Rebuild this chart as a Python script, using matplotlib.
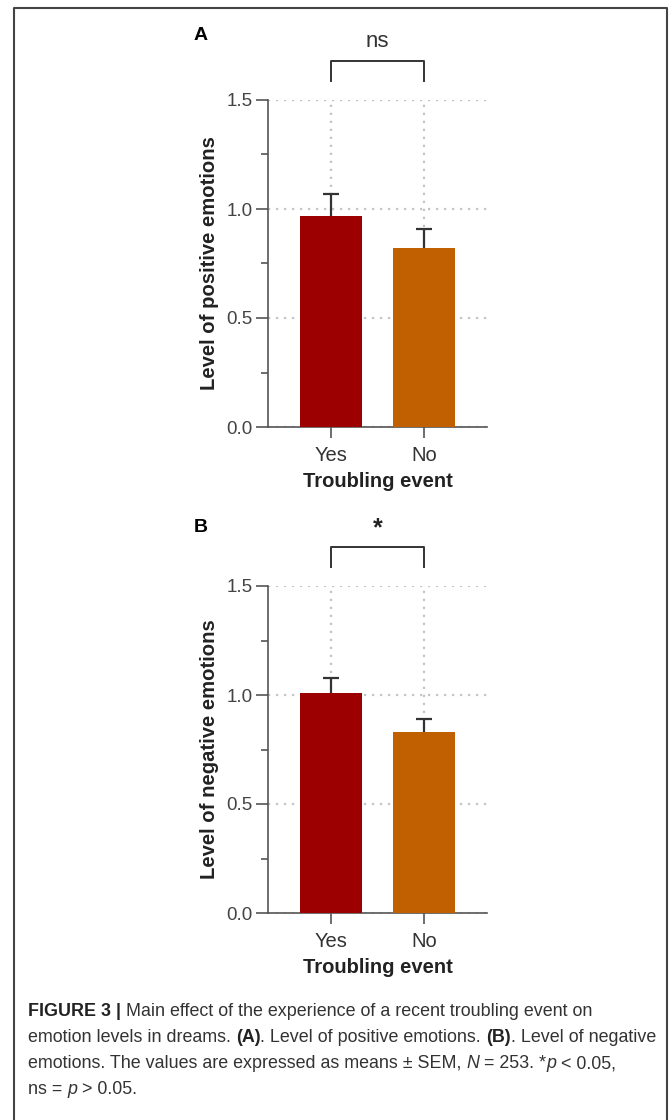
import numpy as np
import matplotlib
matplotlib.use('Agg')
import matplotlib.pyplot as plt
from matplotlib.lines import Line2D
from matplotlib.ticker import MultipleLocator, FormatStrFormatter

plt.rcParams['font.family'] = ['Liberation Sans', 'DejaVu Sans']

# data
categories = ['Yes', 'No']
positive_means = [0.97, 0.82]
positive_sem = [0.10, 0.09]
negative_means = [1.01, 0.83]
negative_sem = [0.07, 0.06]
panel_labels = ['A', 'B']
sig_marks = ['ns', '*']
y_labels = ['Level of positive emotions', 'Level of negative emotions']
x_label = 'Troubling event'
bar_colors = ['#9c0000', '#c06000']

W, H = 670, 1120
fig = plt.figure(figsize=(W / 100, H / 100), dpi=100)


def px_axes(left, top, right, bottom):
    return fig.add_axes([left / W, 1 - bottom / H, (right - left) / W, (bottom - top) / H])


def draw_panel(ax, means, sems, ylabel, mark):
    x = np.arange(len(categories))
    ax.bar(x, means, width=0.667, color=bar_colors, zorder=3)
    eb = ax.errorbar(x, means, yerr=[np.zeros(len(sems)), sems], fmt='none',
                     ecolor='#333333', elinewidth=1.6, capsize=6, capthick=1.6, zorder=4)
    # only the upper cap is shown
    eb[1][0].set_visible(False)

    ax.set_xlim(-0.677, 1.677)
    ax.set_ylim(0, 1.5)
    ax.set_xticks(x)
    ax.set_xticklabels(categories)
    ax.yaxis.set_major_locator(MultipleLocator(0.5))
    ax.yaxis.set_minor_locator(MultipleLocator(0.25))
    ax.yaxis.set_major_formatter(FormatStrFormatter('%.1f'))
    ax.tick_params(axis='y', which='major', length=9, width=1.2, color='#555555',
                   labelsize=13.5, labelcolor='#444444', pad=2)
    ax.tick_params(axis='y', which='minor', length=5, width=1.2, color='#555555')
    ax.tick_params(axis='x', length=8, width=1.2, color='#555555',
                   labelsize=14.5, labelcolor='#333333', pad=6)
    for s in ['top', 'right']:
        ax.spines[s].set_visible(False)
    for s in ['left', 'bottom']:
        ax.spines[s].set_color('#555555')
        ax.spines[s].set_linewidth(1.2)
    ax.grid(True, color='#c4c4c4', linestyle=(0, (1, 2.6)), linewidth=1.6, zorder=0)
    ax.set_axisbelow(True)

    ax.set_ylabel(ylabel, fontsize=14.6, fontweight='bold', color='#222222')
    ax.yaxis.set_label_coords(-0.265, 0.5)
    ax.yaxis.label.set_va('center')
    ax.set_xlabel(x_label, fontsize=14.5, fontweight='bold', color='#222222')
    ax.xaxis.set_label_coords(0.5, -0.168)
    ax.xaxis.label.set_va('center')

    # significance bracket
    ax.plot([0, 0, 1, 1], [1.587, 1.68, 1.68, 1.587], color='#333333', lw=1.4,
            clip_on=False)
    if mark == '*':
        ax.text(0.5, 1.765, mark, ha='center', va='center', fontsize=18,
                fontweight='bold', color='#222222')
    else:
        ax.text(0.5, 1.77, mark, ha='center', va='center', fontsize=16,
                color='#333333')


ax_a = px_axes(268, 100, 487, 427)
draw_panel(ax_a, positive_means, positive_sem, y_labels[0], sig_marks[0])
ax_b = px_axes(268, 586, 487, 913)
draw_panel(ax_b, negative_means, negative_sem, y_labels[1], sig_marks[1])

fig.text(201 / W, 1 - 35 / H, panel_labels[0], fontsize=14, fontweight='bold',
         ha='center', va='center')
fig.text(201 / W, 1 - 528 / H, panel_labels[1], fontsize=14, fontweight='bold',
         ha='center', va='center')

# frame around the figure
fig.add_artist(Line2D([14 / W, 14 / W, 667 / W, 667 / W], [0, 1 - 8 / H, 1 - 8 / H, 0],
                      color='#444444', lw=1.5, transform=fig.transFigure))

# caption, drawn piece by piece so bold/italic parts can be mixed
caption_lines = [
    [('FIGURE 3 |', 'bold', 'normal'),
     (' Main effect of the experience of a recent troubling event on', 'normal', 'normal')],
    [('emotion levels in dreams. ', 'normal', 'normal'), ('(A)', 'bold', 'normal'),
     ('. Level of positive emotions. ', 'normal', 'normal'), ('(B)', 'bold', 'normal'),
     ('. Level of negative', 'normal', 'normal')],
    [('emotions. The values are expressed as means \u00b1 SEM, ', 'normal', 'normal'),
     ('N', 'normal', 'italic'), (' = 253. *', 'normal', 'normal'),
     ('p', 'normal', 'italic'), (' < 0.05,', 'normal', 'normal')],
    [('ns = ', 'normal', 'normal'), ('p', 'normal', 'italic'),
     (' > 0.05.', 'normal', 'normal')],
]
renderer = fig.canvas.get_renderer()
line_y = [1012, 1038, 1064, 1089]
for segs, yy in zip(caption_lines, line_y):
    xx = 28
    for txt, weight, style in segs:
        t = fig.text(xx / W, 1 - yy / H, txt, fontsize=12.9, fontweight=weight,
                     fontstyle=style, va='center', ha='left',
                     color='#222222' if weight == 'bold' else '#333333')
        xx += t.get_window_extent(renderer).width

fig.savefig('out.png', dpi=100)
